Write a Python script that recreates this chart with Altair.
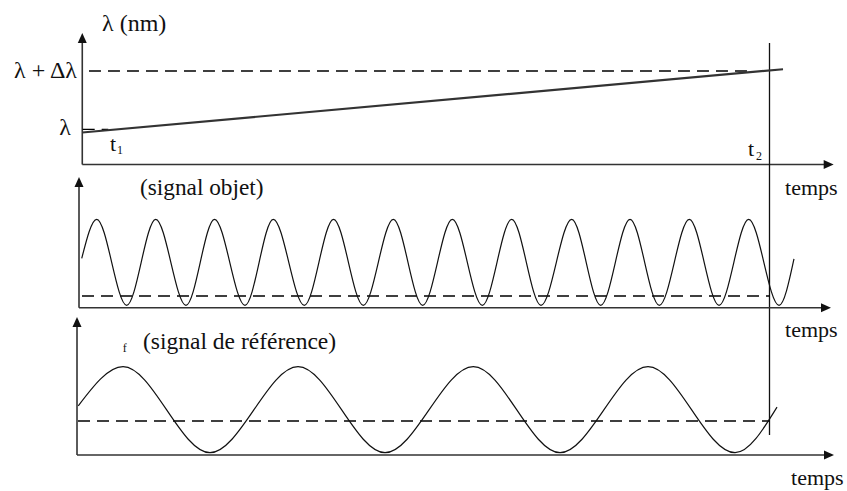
import altair as alt
import pandas as pd

W, H = 847, 491
FONT = "Liberation Serif, Times New Roman, serif"
INK = "#111111"
AXIS_INK = "#333333"

# ---------------------------------------------------------------------------
# Values
# ---------------------------------------------------------------------------
# Sweep time in % of the sweep: t1 = 0, t2 = 100
T1, T2 = 0.0, 100.0

# Wavelength, normalised: 0 -> λ, 1 -> λ + Δλ
LAMBDA_LEVEL = 0.0
LAMBDA_DELTA_LEVEL = 1.0
ramp_t = [0.33, 101.96]
ramp_level = [-0.055, 1.03]

# Object signal: start, alternating peaks / troughs, end (normalised intensity)
obj_t = [0.25, 2.42, 6.77, 10.98, 15.37, 19.51, 23.93, 28.03, 32.53, 36.77,
         41.09, 45.44, 49.70, 54.00, 58.35, 62.61, 66.86, 71.31, 75.52, 79.77,
         84.02, 88.37, 92.68, 96.98, 101.38, 103.55]
obj_level = [0.09, 1, -1, 1, -1, 1, -1, 1, -1, 1,
             -1, 1, -1, 1, -1, 1, -1, 1, -1, 1,
             -1, 1, -1, 1, -1, 0.08]
obj_dash_level = -0.784

# Reference signal: start, alternating peaks / troughs, end
ref_t = [-0.25, 6.24, 18.85, 31.62, 44.24, 57.04, 69.62, 82.38, 95.00, 101.09]
ref_level = [0.09, 1, -1, 1, -1, 1, -1, 1, -1, 0.06]
ref_dash_level = -0.263

# ---------------------------------------------------------------------------
# Scales: one shared time scale, one vertical scale per panel
# ---------------------------------------------------------------------------
X_SCALE = alt.Scale(domain=[-11.603, 111.240], nice=False, zero=False)
Y_LAMBDA = alt.Scale(domain=[-6.2041, 2.2178], nice=False, zero=False)
Y_OBJ = alt.Scale(domain=[-5.3186, 6.1000], nice=False, zero=False)
Y_REF = alt.Scale(domain=[-1.8907, 9.5279], nice=False, zero=False)

UP = "M0,-1L0.9,1L-0.9,1Z"
RIGHT = "M1,0L-1,-0.9L-1,0.9Z"


def xq(field):
    return alt.X(field, type="quantitative", scale=X_SCALE, axis=None)


def yq(field, scale):
    return alt.Y(field, type="quantitative", scale=scale, axis=None)


def segments(rows, scale, color, width, dash=None):
    df = pd.DataFrame(rows, columns=["t", "v", "t_end", "v_end"])
    kw = dict(color=color, strokeWidth=width)
    if dash:
        kw["strokeDash"] = dash
    return alt.Chart(df).mark_rule(**kw).encode(
        x=xq("t"), x2=alt.X2("t_end"), y=yq("v", scale), y2=alt.Y2("v_end")
    )


def arrowheads(rows, scale):
    df = pd.DataFrame(rows, columns=["t", "v", "shape"])
    return alt.Chart(df).mark_point(
        filled=True, size=100, color=INK, opacity=1, strokeWidth=0
    ).encode(x=xq("t"), y=yq("v", scale), shape=alt.Shape("shape:N", scale=None))


def labels(rows, scale, align="left"):
    df = pd.DataFrame(rows, columns=["t", "v", "label", "fs"])
    return alt.Chart(df).mark_text(
        font=FONT, color=INK, align=align, baseline="alphabetic"
    ).encode(
        x=xq("t"), y=yq("v", scale),
        text=alt.Text("label:N"), size=alt.Size("fs:Q", scale=None),
    )


def curve(ts, levels, scale, color, width):
    df = pd.DataFrame({"t": ts, "v": levels})
    return alt.Chart(df).mark_line(
        color=color, strokeWidth=width, interpolate="monotone"
    ).encode(x=xq("t"), y=yq("v", scale))


DASH = [12, 7]

# ---------------------------------------------------------------------------
# Panel 1: wavelength sweep
# ---------------------------------------------------------------------------
p_lambda = alt.layer(
    segments([[0.33, -0.604, 0.33, 1.48],
              [0.33, -0.604, 108.05, -0.604]], Y_LAMBDA, AXIS_INK, 1.6),
    segments([[T2, 1.48, T2, -5.244]], Y_LAMBDA, INK, 1.3),
    segments([[1.3, LAMBDA_DELTA_LEVEL, 97.2, LAMBDA_DELTA_LEVEL],
              [0.39, LAMBDA_LEVEL, 4.1, LAMBDA_LEVEL]], Y_LAMBDA, "#000000", 1.3, DASH),
    curve(ramp_t, ramp_level, Y_LAMBDA, "#333333", 2.2),
    arrowheads([[0.33, 1.566, UP], [108.58, -0.604, RIGHT]], Y_LAMBDA),
    labels([[3.19, 1.686, "λ (nm)", 24],
            [4.35, -0.372, "t", 22],
            [5.37, -0.424, "1", 12],
            [96.88, -0.458, "t", 22],
            [98.04, -0.527, "2", 12],
            [102.25, -1.127, "temps", 22]], Y_LAMBDA),
    labels([[-0.435, 0.88, "λ + Δλ", 24],
            [-1.305, -0.098, "λ", 24]], Y_LAMBDA, align="right"),
)

# ---------------------------------------------------------------------------
# Panel 2: object signal
# ---------------------------------------------------------------------------
p_obj = alt.layer(
    segments([[-0.145, -1.056, -0.145, 1.751],
              [-0.145, -1.056, 107.6, -1.056]], Y_OBJ, AXIS_INK, 1.6),
    segments([[0.29, obj_dash_level, T2, obj_dash_level]], Y_OBJ, "#000000", 1.3, DASH),
    curve(obj_t, obj_level, Y_OBJ, INK, 1.2),
    arrowheads([[-0.145, 1.867, UP], [108.19, -1.056, RIGHT]], Y_OBJ),
    labels([[8.70, 1.565, "(signal objet)", 23.3],
            [102.25, -1.737, "temps", 22]], Y_OBJ),
)

# ---------------------------------------------------------------------------
# Panel 3: reference signal
# ---------------------------------------------------------------------------
p_ref = alt.layer(
    segments([[-0.435, -1.053, -0.435, 1.923],
              [-0.435, -1.053, 108.05, -1.053]], Y_REF, AXIS_INK, 1.6),
    segments([[-0.29, ref_dash_level, T2, ref_dash_level]], Y_REF, "#000000", 1.3, DASH),
    curve(ref_t, ref_level, Y_REF, INK, 1.2),
    arrowheads([[-0.435, 2.04, UP], [108.63, -1.053, RIGHT]], Y_REF),
    labels([[6.19, 1.342, "f", 12],
            [9.14, 1.412, "(signal de référence)", 23.5],
            [103.12, -1.751, "temps", 22]], Y_REF),
)

chart = (
    alt.layer(p_lambda, p_obj, p_ref)
    .resolve_scale(y="independent")
    .properties(
        width=W, height=H,
        autosize=alt.AutoSizeParams(type="none"),
        padding=0,
        background="white",
    )
    .configure_view(stroke=None)
)

chart.save("out.html", embed_options={"renderer": "svg", "actions": False})
